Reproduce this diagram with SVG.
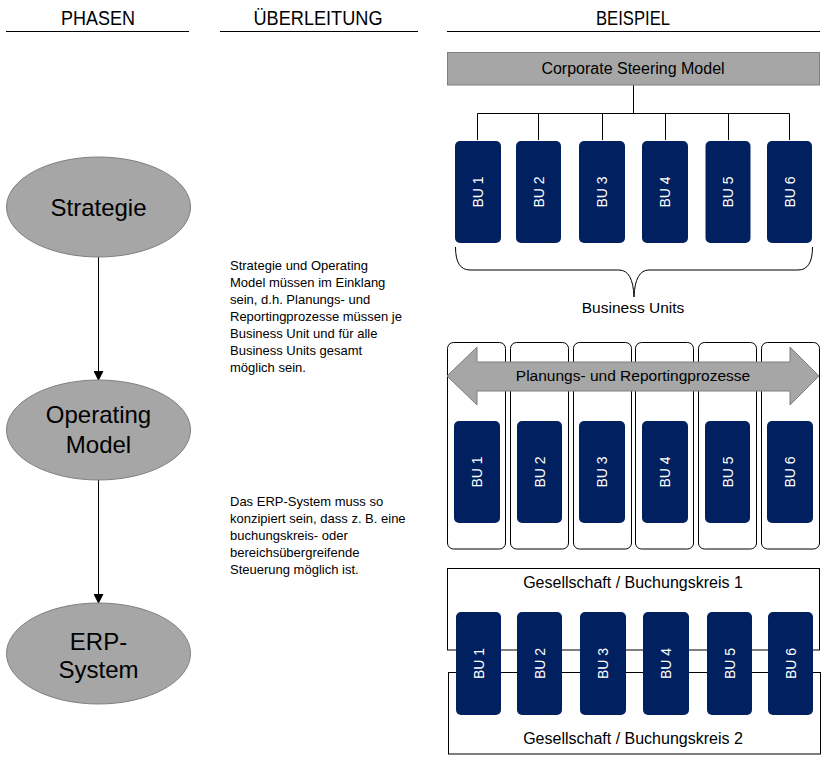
<svg xmlns="http://www.w3.org/2000/svg" width="831" height="767" viewBox="0 0 831 767">
<defs>
<style>
text{font-family:"Liberation Sans",Arial,sans-serif;fill:#000}
.hd{font-size:20px}
.hl{stroke:#000;stroke-width:1}
.ell{fill:#a6a6a6;stroke:#7f7f7f;stroke-width:1}
.et{font-size:24px;text-anchor:middle}
.p{font-size:13px}
.bu{fill:#002060}
.bt{font-size:14px;fill:#fff;text-anchor:middle}
.gr{fill:#a6a6a6;stroke:#7f7f7f;stroke-width:1}
.lb{font-size:16px;text-anchor:middle}
.col{fill:#fff;stroke:#000;stroke-width:1}
.ln{fill:none;stroke:#000;stroke-width:1}
</style>
<marker id="ah" markerWidth="10" markerHeight="10" refX="9" refY="5" orient="auto" markerUnits="userSpaceOnUse">
<path d="M0,0 L10,5 L0,10 Z" fill="#000"/>
</marker>
</defs>
<rect width="831" height="767" fill="#fff"/>

<g id="headers">
<text class="hd" x="98" y="25" text-anchor="middle" textLength="74" lengthAdjust="spacingAndGlyphs">PHASEN</text>
<text class="hd" x="318" y="25" text-anchor="middle" textLength="129" lengthAdjust="spacingAndGlyphs">ÜBERLEITUNG</text>
<text class="hd" x="633" y="25" text-anchor="middle" textLength="74" lengthAdjust="spacingAndGlyphs">BEISPIEL</text>
<line class="hl" x1="6" y1="31.5" x2="189" y2="31.5"/>
<line class="hl" x1="220" y1="31.5" x2="418" y2="31.5"/>
<line class="hl" x1="447" y1="31.5" x2="820" y2="31.5"/>
</g>

<g id="connectors">
<line class="ln" x1="98.5" y1="257" x2="98.5" y2="380" marker-end="url(#ah)"/>
<line class="ln" x1="98.5" y1="480" x2="98.5" y2="603" marker-end="url(#ah)"/>
<path class="ln" d="M633.5,85 V113 M477.5,140 V113.5 H789.5 V140 M538.5,113 V140 M602.5,113 V140 M665.5,113 V140 M728.5,113 V140"/>
<path class="ln" d="M455.5,247 Q455.5,270 470,270 L619,270 Q633,270 634,297 Q635,270 649,270 L798,270 Q812.5,270 812.5,247"/>
</g>

<g id="strategie">
<ellipse class="ell" cx="98.5" cy="207" rx="92" ry="50"/>
<text class="et" x="98.5" y="216">Strategie</text>
</g>
<g id="operating-model">
<ellipse class="ell" cx="98.5" cy="430" rx="92" ry="50"/>
<text class="et" x="98.5" y="423">Operating</text>
<text class="et" x="98.5" y="453">Model</text>
</g>
<g id="erp-system">
<ellipse class="ell" cx="98.5" cy="653.5" rx="92" ry="50.5"/>
<text class="et" x="98.5" y="650">ERP-</text>
<text class="et" x="98.5" y="678">System</text>
</g>

<g id="text-1">
<text class="p" x="230" y="270">Strategie und Operating</text>
<text class="p" x="230" y="287">Model müssen im Einklang</text>
<text class="p" x="230" y="304">sein, d.h. Planungs- und</text>
<text class="p" x="230" y="321">Reportingprozesse müssen je</text>
<text class="p" x="230" y="338">Business Unit und für alle</text>
<text class="p" x="230" y="355">Business Units gesamt</text>
<text class="p" x="230" y="372">möglich sein.</text>
</g>
<g id="text-2">
<text class="p" x="230" y="506">Das ERP-System muss so</text>
<text class="p" x="230" y="523">konzipiert sein, dass z. B. eine</text>
<text class="p" x="230" y="540">buchungskreis- oder</text>
<text class="p" x="230" y="557">bereichsübergreifende</text>
<text class="p" x="230" y="574">Steuerung möglich ist.</text>
</g>

<g id="corporate-steering-model">
<rect class="gr" x="447.5" y="52.5" width="372" height="32.5"/>
<text class="lb" x="633" y="74">Corporate Steering Model</text>
</g>

<g id="row1-bus">
<g id="r1-bu1"><rect class="bu" x="455" y="141" width="46" height="102" rx="5"/><text class="bt" transform="translate(483,192) rotate(-90)">BU 1</text></g>
<g id="r1-bu2"><rect class="bu" x="516" y="141" width="45" height="102" rx="5"/><text class="bt" transform="translate(543.5,192) rotate(-90)">BU 2</text></g>
<g id="r1-bu3"><rect class="bu" x="579" y="141" width="46" height="102" rx="5"/><text class="bt" transform="translate(607,192) rotate(-90)">BU 3</text></g>
<g id="r1-bu4"><rect class="bu" x="642" y="141" width="46" height="102" rx="5"/><text class="bt" transform="translate(670,192) rotate(-90)">BU 4</text></g>
<g id="r1-bu5"><rect class="bu" x="705.5" y="141" width="45" height="102" rx="5"/><text class="bt" transform="translate(733,192) rotate(-90)">BU 5</text></g>
<g id="r1-bu6"><rect class="bu" x="767" y="141" width="45" height="102" rx="5"/><text class="bt" transform="translate(794.5,192) rotate(-90)">BU 6</text></g>
</g>
<g id="business-units-label">
<text class="lb" x="633" y="313" style="font-size:15.5px">Business Units</text>
</g>

<g id="row2-columns">
<rect class="col" x="447.5" y="342.5" width="58" height="206.5" rx="6"/>
<rect class="col" x="510.5" y="342.5" width="58" height="206.5" rx="6"/>
<rect class="col" x="573.5" y="342.5" width="58" height="206.5" rx="6"/>
<rect class="col" x="635.5" y="342.5" width="58" height="206.5" rx="6"/>
<rect class="col" x="698.5" y="342.5" width="58" height="206.5" rx="6"/>
<rect class="col" x="761.5" y="342.5" width="58" height="206.5" rx="6"/>
</g>
<g id="planungs-arrow">
<polygon class="gr" points="447,376 477,347 477,362 790,362 790,347 819,376 790,405 790,391 477,391 477,405"/>
<text class="lb" x="633" y="381" style="font-size:15.5px">Planungs- und Reportingprozesse</text>
</g>
<g id="row2-bus">
<g id="r2-bu1"><rect class="bu" x="454" y="421" width="46" height="102" rx="5"/><text class="bt" transform="translate(482,472) rotate(-90)">BU 1</text></g>
<g id="r2-bu2"><rect class="bu" x="517" y="421" width="45" height="102" rx="5"/><text class="bt" transform="translate(544.5,472) rotate(-90)">BU 2</text></g>
<g id="r2-bu3"><rect class="bu" x="579" y="421" width="46" height="102" rx="5"/><text class="bt" transform="translate(607,472) rotate(-90)">BU 3</text></g>
<g id="r2-bu4"><rect class="bu" x="642" y="421" width="46" height="102" rx="5"/><text class="bt" transform="translate(670,472) rotate(-90)">BU 4</text></g>
<g id="r2-bu5"><rect class="bu" x="705" y="421" width="45" height="102" rx="5"/><text class="bt" transform="translate(732.5,472) rotate(-90)">BU 5</text></g>
<g id="r2-bu6"><rect class="bu" x="767" y="421" width="46" height="102" rx="5"/><text class="bt" transform="translate(795,472) rotate(-90)">BU 6</text></g>
</g>

<g id="buchungskreis-1">
<rect class="col" x="447.5" y="568.5" width="372" height="81.5"/>
<text class="lb" x="633" y="588">Gesellschaft / Buchungskreis 1</text>
</g>
<g id="buchungskreis-2">
<rect class="col" x="448.5" y="672.5" width="372" height="81.5"/>
<text class="lb" x="633" y="744">Gesellschaft / Buchungskreis 2</text>
</g>
<g id="row3-bus">
<g id="r3-bu1"><rect class="bu" x="456" y="612" width="45" height="103" rx="5"/><text class="bt" transform="translate(483.5,663.5) rotate(-90)">BU 1</text></g>
<g id="r3-bu2"><rect class="bu" x="517" y="612" width="45" height="103" rx="5"/><text class="bt" transform="translate(544.5,663.5) rotate(-90)">BU 2</text></g>
<g id="r3-bu3"><rect class="bu" x="580" y="612" width="46" height="103" rx="5"/><text class="bt" transform="translate(608,663.5) rotate(-90)">BU 3</text></g>
<g id="r3-bu4"><rect class="bu" x="643" y="612" width="46" height="103" rx="5"/><text class="bt" transform="translate(671,663.5) rotate(-90)">BU 4</text></g>
<g id="r3-bu5"><rect class="bu" x="707" y="612" width="45" height="103" rx="5"/><text class="bt" transform="translate(734.5,663.5) rotate(-90)">BU 5</text></g>
<g id="r3-bu6"><rect class="bu" x="768" y="612" width="45" height="103" rx="5"/><text class="bt" transform="translate(795.5,663.5) rotate(-90)">BU 6</text></g>
</g>
</svg>
